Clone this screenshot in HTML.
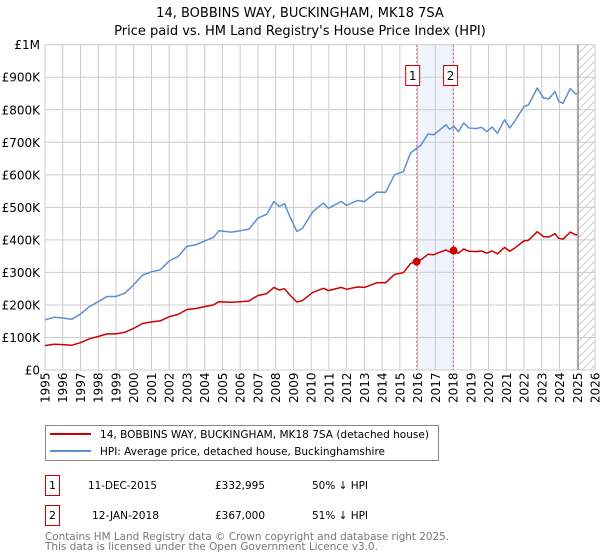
<!DOCTYPE html>
<html><head><meta charset="utf-8"><style>
body{margin:0;background:#fff;}
svg{display:block;font-family:"DejaVu Sans","Liberation Sans",sans-serif;}
</style></head><body>
<svg id="chart" width="600" height="560" viewBox="0 0 600 560" xmlns="http://www.w3.org/2000/svg">
<text x="300" y="17" text-anchor="middle" font-size="13">14, BOBBINS WAY, BUCKINGHAM, MK18 7SA</text>
<text x="300" y="35" text-anchor="middle" font-size="13">Price paid vs. HM Land Registry's House Price Index (HPI)</text>
<g id="grid"></g>
<g id="marks"></g>
<g id="axes"></g>

<g>
<rect x="45.5" y="425.5" width="393" height="35" fill="#fff" stroke="#888"/>
<line x1="50" y1="434" x2="91" y2="434" stroke="#cc0000" stroke-width="2"/>
<text x="100" y="438" font-size="11" textLength="329" lengthAdjust="spacingAndGlyphs">14, BOBBINS WAY, BUCKINGHAM, MK18 7SA (detached house)</text>
<line x1="50" y1="451" x2="91" y2="451" stroke="#5b8fd4" stroke-width="2"/>
<text x="100" y="455" font-size="11" textLength="285" lengthAdjust="spacingAndGlyphs">HPI: Average price, detached house, Buckinghamshire</text>
</g>

<g font-size="11">
<rect x="45.5" y="475.5" width="14" height="20" fill="#fff" stroke="#cc0000"/>
<text x="52.5" y="489" text-anchor="middle">1</text>
<text x="88" y="489" textLength="69" lengthAdjust="spacingAndGlyphs">11-DEC-2015</text>
<text x="215" y="489" textLength="50" lengthAdjust="spacingAndGlyphs">£332,995</text>
<text x="312" y="489" textLength="56" lengthAdjust="spacingAndGlyphs">50% ↓ HPI</text>
<rect x="45.5" y="505.5" width="14" height="20" fill="#fff" stroke="#cc0000"/>
<text x="52.5" y="519" text-anchor="middle">2</text>
<text x="92" y="519" textLength="67" lengthAdjust="spacingAndGlyphs">12-JAN-2018</text>
<text x="215" y="519" textLength="50" lengthAdjust="spacingAndGlyphs">£367,000</text>
<text x="312" y="519" textLength="56" lengthAdjust="spacingAndGlyphs">51% ↓ HPI</text>
</g>
<text x="45" y="540" font-size="11" fill="#777" textLength="404" lengthAdjust="spacingAndGlyphs">Contains HM Land Registry data © Crown copyright and database right 2025.</text>
<text x="45" y="550" font-size="11" fill="#777" textLength="333" lengthAdjust="spacingAndGlyphs">This data is licensed under the Open Government Licence v3.0.</text>
</svg>
<script>
const hpiYears=[1995.0,1995.5,1996,1996.5,1997,1997.5,1998,1998.5,1999,1999.5,2000,2000.5,2001,2001.5,2002,2002.5,2003,2003.5,2004,2004.5,2004.8,2005.5,2006,2006.5,2007,2007.5,2007.9,2008.2,2008.5,2008.8,2009.2,2009.5,2010.1,2010.7,2010.97,2011.7,2012,2012.6,2013,2013.7,2014.2,2014.7,2015.2,2015.6,2016.2,2016.6,2016.9,2017.3,2017.6,2017.8,2018.05,2018.3,2018.6,2018.9,2019.3,2019.6,2019.9,2020.2,2020.5,2020.9,2021.2,2021.5,2022,2022.25,2022.75,2023.1,2023.4,2023.75,2023.95,2024.2,2024.6,2024.9,2025.0];
const hpiValues=[154,162,160,156,172,195,210,226,226,236,262,292,302,308,335,349,380,385,397,408,428,424,428,433,467,479,518,503,511,472,426,435,487,513,497,518,506,521,518,547,546,600,610,667,692,726,723,740,754,740,749,733,759,744,742,746,733,747,728,769,744,767,810,815,867,836,834,856,826,820,865,849,849];
const propertyValues=[75,79,78,76,84,96,103,111,111,116,128,143,148,151,164,171,186,189,195,200,210,208,210,212,229,235,254,246,250,231,209,213,239,251,244,254,248,255,254,268,268,294,299,327,339,356,354,363,369,363,367,359,372,365,364,366,359,366,357,377,365,376,397,399,425,410,409,419,405,402,424,416,416];
const saleYears=[2015.95,2018.03];
const salePrices=[332995,367000];
const saleLabels=["1","2"];
const yTicks=[0,100,200,300,400,500,600,700,800,900,1000];
const yTickLabels=["£0","£100K","£200K","£300K","£400K","£500K","£600K","£700K","£800K","£900K","£1M"];
const xTicks=[1995,1996,1997,1998,1999,2000,2001,2002,2003,2004,2005,2006,2007,2008,2009,2010,2011,2012,2013,2014,2015,2016,2017,2018,2019,2020,2021,2022,2023,2024,2025,2026];

const NS="http://www.w3.org/2000/svg";
const X0=45,X1=595,Y0=370,Y1=44.7,xmin=1995,xmax=2026,dataEnd=2025.05;
const xs=y=>X0+(y-xmin)/(xmax-xmin)*(X1-X0);
const ys=v=>Y0-v/1000*(Y0-Y1);
function mk(tag,attrs,parent){const e=document.createElementNS(NS,tag);for(const k in attrs)e.setAttribute(k,attrs[k]);parent.appendChild(e);return e;}
const grid=document.getElementById('grid'),marks=document.getElementById('marks'),axes=document.getElementById('axes');

let sh=mk('rect',{x:xs(saleYears[0]),y:Y1,width:xs(saleYears[1])-xs(saleYears[0]),height:Y0-Y1,fill:'#eef3fc'},grid);


const defs=mk('defs',{},grid);
const pat=mk('pattern',{id:'hatch',width:8,height:8,patternUnits:'userSpaceOnUse'},defs);
mk('path',{d:'M0,8 L8,0 M-2,2 L2,-2 M6,10 L10,6',stroke:'#ccc','stroke-width':1},pat);
let ht=mk('rect',{x:xs(dataEnd),y:Y1,width:X1-xs(dataEnd),height:Y0-Y1,fill:'url(#hatch)'},grid);



xTicks.forEach(t=>{const l=mk('line',{x1:xs(t),x2:xs(t),y1:Y1,y2:Y0,stroke:'#ccc'},grid);


const tx=mk('text',{transform:`translate(${xs(t)+4.5},${Y0+33}) rotate(-90)`,'font-size':12},axes);tx.textContent=t;

});
yTicks.forEach((t,i)=>{const l=mk('line',{x1:X0,x2:X1,y1:ys(t),y2:ys(t),stroke:'#ccc'},grid);


const tx=mk('text',{x:X0-5,y:ys(t)+4.5,'text-anchor':'end','font-size':12},axes);tx.textContent=yTickLabels[i];

});
let el=mk('line',{x1:xs(dataEnd),x2:xs(dataEnd),y1:Y1,y2:Y0,stroke:'#999','stroke-width':1.5},grid);



const boxOffsets=[-4,-3];
saleYears.forEach((s,i)=>{const l=mk('line',{x1:xs(s),x2:xs(s),y1:Y1,y2:Y0,stroke:'#e06060','stroke-dasharray':'2,2'},grid);


const bx=xs(s)+boxOffsets[i];
const r=mk('rect',{x:bx-7,y:65.5,width:14,height:20,fill:'#fff',stroke:'#cc0000'},marks);


const tx=mk('text',{x:bx,y:80,'text-anchor':'middle','font-size':12},marks);tx.textContent=saleLabels[i];

});

const path=(vals)=>hpiYears.map((y,i)=>(i?'L':'M')+xs(y).toFixed(1)+','+ys(vals[i]).toFixed(1)).join('');
let hp=mk('path',{d:path(hpiValues),fill:'none',stroke:'#5b8fd4','stroke-width':1.5,'stroke-linejoin':'round'},marks);


let pp=mk('path',{d:path(propertyValues),fill:'none',stroke:'#cc0000','stroke-width':1.5,'stroke-linejoin':'round'},marks);


saleYears.forEach((s,i)=>{const c=mk('circle',{cx:xs(s),cy:ys(salePrices[i]/1000),r:4,fill:'#cc0000'},marks);

});
</script>
</body></html>
